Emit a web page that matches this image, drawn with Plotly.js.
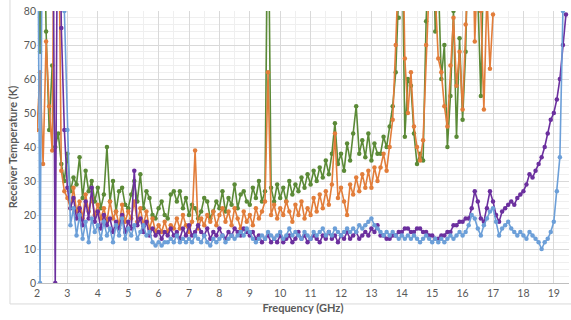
<!DOCTYPE html>
<html>
<head>
<meta charset="utf-8">
<script src="https://cdn.plot.ly/plotly-3.0.1.min.js"></script>
<style>html,body{margin:0;padding:0;background:#fff;}#chart{width:571px;height:320px;}</style>
</head>
<body>
<div id="chart"></div>
<script>
// Frequency samples (GHz)
const freq = [2.0,2.1,2.2,2.3,2.4,2.5,2.6,2.7,2.8,2.9,3.0,3.1,3.2,3.3,3.4,3.5,3.6,3.7,3.8,3.9,
4.0,4.1,4.2,4.3,4.4,4.5,4.6,4.7,4.8,4.9,5.0,5.1,5.2,5.3,5.4,5.5,5.6,5.7,5.8,5.9,
6.0,6.1,6.2,6.3,6.4,6.5,6.6,6.7,6.8,6.9,7.0,7.1,7.2,7.3,7.4,7.5,7.6,7.7,7.8,7.9,
8.0,8.1,8.2,8.3,8.4,8.5,8.6,8.7,8.8,8.9,9.0,9.1,9.2,9.3,9.4,9.5,9.6,9.7,9.8,9.9,
10.0,10.1,10.2,10.3,10.4,10.5,10.6,10.7,10.8,10.9,11.0,11.1,11.2,11.3,11.4,11.5,11.6,11.7,11.8,11.9,
12.0,12.1,12.2,12.3,12.4,12.5,12.6,12.7,12.8,12.9,13.0,13.1,13.2,13.3,13.4,13.5,13.6,13.7,13.8,13.9,
14.0,14.1,14.2,14.3,14.4,14.5,14.6,14.7,14.8,14.9,15.0,15.1,15.2,15.3,15.4,15.5,15.6,15.7,15.8,15.9,
16.0,16.1,16.2,16.3,16.4,16.5,16.6,16.7,16.8,16.9,17.0,17.1,17.2,17.3,17.4,17.5,17.6,17.7,17.8,17.9,
18.0,18.1,18.2,18.3,18.4,18.5,18.6,18.7,18.8,18.9,19.0,19.1,19.2,19.3,19.4];

// Receiver temperature (K) per series
const greenT = [100,68,130,74,45,64,40,44,35,30,38,27,31,29,37,25,33,27,30,24,
28,22,26,40,24,30,21,27,28,23,22,26,30,24,32,22,27,25,20,19,
22,24,20,19,26,27,24,27,22,25,20,23,22,19,21,25,24,19,21,24,
22,27,21,25,23,29,22,26,27,24,23,28,25,30,24,27,120,28,24,29,
25,28,24,30,26,29,27,31,28,32,29,33,30,34,31,36,32,38,47,35,
38,33,41,36,44,52,38,42,37,44,36,41,38,38,43,40,46,52,62,78,
110,43,60,58,44,35,38,36,77,100,120,74,90,60,70,40,55,80,43,72,
48,68,110,95,110,85,55,100,90];

const orangeT = [45,62,35,71,52,39,150,120,33,27,25,22,28,21,24,19,26,21,25,20,
23,19,22,18,24,19,21,17,23,18,21,19,24,18,22,17,21,16,19,15,
17,15,18,15,17,16,19,16,20,17,15,18,39,16,19,17,20,18,21,17,
20,22,18,21,17,22,19,16,21,18,20,17,22,19,21,24,62,20,23,19,
22,20,24,21,18,23,20,24,19,22,20,25,21,26,22,27,23,29,44,25,
28,24,20,29,26,31,27,32,28,33,28,34,30,34,38,33,40,48,70,90,
120,66,50,62,46,40,36,42,70,95,110,85,66,62,52,46,64,78,58,68,
51,76,100,120,71,95,80,51,85,63,79];

const purpleT = [150,150,150,150,150,150,0,150,75,45,28,22,25,19,22,17,24,19,28,18,
21,16,20,17,19,15,18,16,20,15,18,16,33,17,19,15,18,14,16,14,
15,13,15,14,16,14,15,13,16,14,17,14,15,17,15,14,16,13,15,14,
16,14,13,15,14,16,15,14,16,15,14,15,13,14,12,13,14,12,13,12,
14,12,13,14,12,13,15,13,14,12,13,14,13,12,14,13,15,13,14,12,
14,13,15,13,14,15,13,14,15,14,16,15,17,14,14,13,13,14,14,15,
15,16,16,15,15,16,16,15,15,14,14,13,13,14,14,15,15,17,17,18,
18,19,19,22,27,24,19,18,22,27,24,20,18,21,22,23,24,23,25,26,
27,29,32,31,33,35,37,40,44,48,50,54,60,70,79];

const blueT = [150,0,150,150,150,150,150,150,150,80,45,17,22,14,20,13,18,12,19,15,
17,13,18,14,16,12,17,14,19,13,16,14,17,13,15,17,14,15,12,11,
12,11,12,12,13,12,14,12,13,12,13,12,14,13,12,14,12,11,13,12,
13,14,12,13,14,13,14,15,14,16,15,13,12,13,14,13,15,14,13,14,
15,13,14,16,14,15,14,13,15,14,13,15,14,15,16,14,15,14,16,15,
14,15,16,15,16,15,17,16,17,18,19,17,16,15,14,15,14,15,14,13,
14,13,14,13,14,13,12,13,14,13,12,13,12,13,12,13,14,13,14,15,
14,15,17,20,19,16,14,17,19,21,22,18,14,16,17,18,16,15,14,15,
14,13,15,14,13,12,10,12,13,15,18,27,37,80,150];

const seriesList = [
  {name: 'Green', y: greenT, color: '#5b8a37'},
  {name: 'Orange', y: orangeT, color: '#e27d3a'},
  {name: 'Purple', y: purpleT, color: '#6b2f9e'},
  {name: 'Blue', y: blueT, color: '#6c9fd8'}
];

const traces = seriesList.map(s => ({
  type: 'scatter',
  mode: 'lines+markers',
  name: s.name,
  x: freq.slice(0, s.y.length),
  y: s.y,
  line: {color: s.color, width: 1.6},
  marker: {color: s.color, size: 4.5},
  cliponaxis: true,
  showlegend: false
}));

const fam = 'Lato, "Open Sans", sans-serif';

const layout = {
  width: 571, height: 320,
  margin: {l: 37, r: 2, t: 11, b: 37},
  paper_bgcolor: '#ffffff',
  plot_bgcolor: '#ffffff',
  font: {family: fam, color: '#595959', size: 10},
  showlegend: false,
  xaxis: {
    range: [2, 19.5],
    tickmode: 'linear', tick0: 2, dtick: 1,
    showgrid: true, gridcolor: '#d9d9d9', gridwidth: 1,
    minor: {dtick: 0.5, showgrid: true, gridcolor: '#efefef', gridwidth: 1},
    zeroline: false,
    showline: true, linecolor: '#bfbfbf', linewidth: 1,
    ticks: '', tickfont: {family: fam, color: '#595959', size: 10.5},
    title: {text: '<b>Frequency (GHz)</b>', font: {family: fam, color: '#595959', size: 11}, standoff: 6}
  },
  yaxis: {
    range: [0, 80],
    tickmode: 'linear', tick0: 0, dtick: 10,
    showgrid: true, gridcolor: '#d9d9d9', gridwidth: 1,
    minor: {dtick: 2, showgrid: true, gridcolor: '#efefef', gridwidth: 1},
    zeroline: false, showline: false,
    ticks: '', tickfont: {family: fam, color: '#595959', size: 10.5},
    title: {text: '<b>Receiver Temperature (K)</b>', font: {family: fam, color: '#595959', size: 11}, standoff: 3}
  },
  shapes: [
    {type: 'line', xref: 'paper', yref: 'paper', x0: -0.0508, x1: -0.0508, y0: -0.077, y1: 1.05, line: {color: '#d9d9d9', width: 1}},
    {type: 'line', xref: 'paper', yref: 'paper', x0: -0.0508, x1: 1.01, y0: -0.077, y1: -0.077, line: {color: '#d9d9d9', width: 1}}
  ]
};

Plotly.newPlot('chart', traces, layout, {staticPlot: true, displayModeBar: false});
</script>
</body>
</html>
